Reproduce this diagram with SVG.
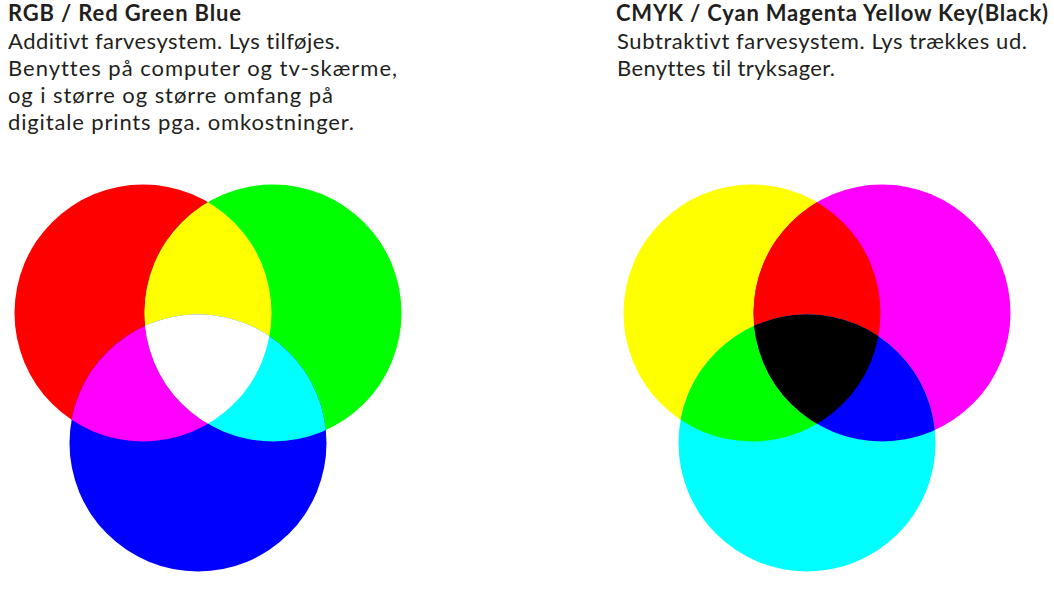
<svg xmlns="http://www.w3.org/2000/svg" width="1054" height="589" viewBox="0 0 1054 589">
<style>
.t{font-family:Lato,"Open Sans","Liberation Sans",sans-serif;fill:#231f20;font-size:22px;font-variant-ligatures:none}
.h{font-weight:bold}
</style>
<defs>
<clipPath id="cpR"><circle cx="143" cy="313" r="128.5"/></clipPath>
<clipPath id="cpG"><circle cx="273" cy="313" r="128.5"/></clipPath>
<clipPath id="cpY"><circle cx="752" cy="313" r="128.5"/></clipPath>
<clipPath id="cpM"><circle cx="882" cy="313" r="128.5"/></clipPath>
</defs>
<rect width="1054" height="589" fill="#fff"/>
<g id="rgb-text">
<text class="t h" x="8" y="21" textLength="233" lengthAdjust="spacing">RGB / Red Green Blue</text>
<text class="t" x="8" y="49" textLength="332" lengthAdjust="spacing">Additivt farvesystem. Lys tilføjes.</text>
<text class="t" x="8" y="76" textLength="389" lengthAdjust="spacing">Benyttes på computer og tv-skærme,</text>
<text class="t" x="8" y="103" textLength="325" lengthAdjust="spacing">og i større og større omfang på</text>
<text class="t" x="8" y="130" textLength="346" lengthAdjust="spacing">digitale prints pga. omkostninger.</text>
</g>
<g id="cmyk-text">
<text class="t h" x="616" y="21" textLength="432" lengthAdjust="spacing">CMYK / Cyan Magenta Yellow Key(Black)</text>
<text class="t" x="617" y="49" textLength="410" lengthAdjust="spacing">Subtraktivt farvesystem. Lys trækkes ud.</text>
<text class="t" x="617" y="76" textLength="218" lengthAdjust="spacing">Benyttes til tryksager.</text>
</g>
<g id="rgb">
<circle cx="143" cy="313" r="128.5" fill="#ff0000"/>
<circle cx="273" cy="313" r="128.5" fill="#00ff00"/>
<circle cx="198" cy="443" r="128.5" fill="#0000ff"/>
<circle cx="273" cy="313" r="128.5" fill="#ffff00" clip-path="url(#cpR)"/>
<circle cx="198" cy="443" r="128.5" fill="#ff00ff" clip-path="url(#cpR)"/>
<circle cx="198" cy="443" r="128.5" fill="#00ffff" clip-path="url(#cpG)"/>
<g clip-path="url(#cpR)"><circle cx="198" cy="443" r="128.5" fill="#ffffff" clip-path="url(#cpG)"/></g>
</g>
<g id="cmyk">
<circle cx="752" cy="313" r="128.5" fill="#ffff00"/>
<circle cx="882" cy="313" r="128.5" fill="#ff00ff"/>
<circle cx="807" cy="443" r="128.5" fill="#00ffff"/>
<circle cx="882" cy="313" r="128.5" fill="#ff0000" clip-path="url(#cpY)"/>
<circle cx="807" cy="443" r="128.5" fill="#00ff00" clip-path="url(#cpY)"/>
<circle cx="807" cy="443" r="128.5" fill="#0000ff" clip-path="url(#cpM)"/>
<g clip-path="url(#cpY)"><circle cx="807" cy="443" r="128.5" fill="#000000" clip-path="url(#cpM)"/></g>
</g>
</svg>
